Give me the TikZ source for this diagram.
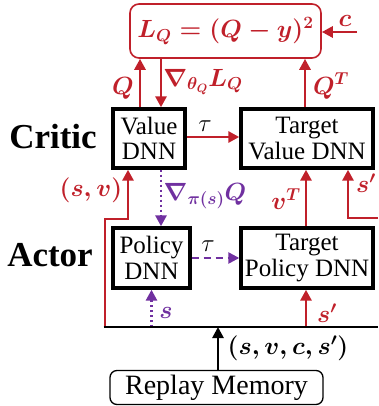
\documentclass[tikz,border=0pt]{standalone}
\usepackage{fontspec}
\setmainfont{Liberation Serif}
\usetikzlibrary{arrows.meta,calc}
\definecolor{cred}{RGB}{192,32,42}
\definecolor{cpur}{RGB}{112,48,160}
\begin{document}
\begin{tikzpicture}[x=1pt,y=-1pt,
  box/.style={draw=black,line width=3.4pt,align=center,inner sep=0pt,font=\fontsize{25}{25.5}\selectfont},
  ra/.style={draw=cred,line width=2.8pt,-{Triangle[length=11pt,width=11pt]}},
  pa/.style={draw=cpur,line width=2.8pt,dash pattern=on 2.5pt off 2.5pt,-{Triangle[length=11pt,width=11pt]}},
  pd/.style={draw=cpur,line width=2.4pt,dash pattern=on 7pt off 5pt,-{Triangle[length=11pt,width=11pt]}},
  ka/.style={draw=black,line width=2.6pt,-{Triangle[length=11pt,width=11pt]}},
  lab/.style={inner sep=0pt,font=\fontsize{23}{25}\selectfont\boldmath},
  tau/.style={inner sep=0pt,font=\fontsize{25}{27}\selectfont},
  tup/.style={inner sep=0pt,font=\fontsize{26}{28}\selectfont\boldmath},
  big/.style={inner sep=0pt,font=\fontsize{35}{38}\selectfont\bfseries}]
\useasboundingbox (0,0) rectangle (378,406);
% nodes
\node[draw=cred,line width=1.6pt,rounded corners=9pt,minimum width=191pt,minimum height=54pt,inner sep=0pt,text=cred,font=\fontsize{24}{26}\selectfont\boldmath] (loss) at (225.5,31) {$L_Q=(Q-y)^2$};
\node[box,minimum width=72pt,minimum height=59pt] (val) at (149,138.5) {Value\\DNN};
\node[box,minimum width=132pt,minimum height=59pt] (tval) at (307,138.5) {Target\\Value DNN};
\node[box,minimum width=77pt,minimum height=60pt] (pol) at (151.5,258) {Policy\\DNN};
\node[box,minimum width=132pt,minimum height=60pt] (tpol) at (307,258) {Target\\Policy DNN};
\node[draw=black,line width=1.3pt,rounded corners=7pt,minimum width=213pt,minimum height=34pt,inner sep=0pt,font=\fontsize{28}{30}\selectfont] (replay) at (216.5,387.5) {Replay Memory};
\node[big] (critic) at (53,137) {Critic};
\node[big] (actor) at (50,255) {Actor};
% coordinates
\coordinate (bl) at (105,327);
\coordinate (br) at (378,327);
\coordinate (sv) at (105,219);
\coordinate (sr) at (378,218);
\coordinate (cs) at (357,32);
% critic arrows
\draw[ra] ([xshift=-9pt]val.north) -- ([xshift=-9pt]val.north |- loss.south);
\draw[ra] ([xshift=12pt]val.north |- loss.south) -- ([xshift=12pt]val.north);
\draw[ra] ([xshift=-2pt]tval.north) -- ([xshift=-2pt]tval.north |- loss.south);
\draw[ra] (cs) -- (loss.east |- cs);
\draw[ra] ([yshift=1.5pt]val.east) -- ([yshift=1.5pt]tval.west);
\draw[ra] ([xshift=-1pt]tpol.north) -- ([xshift=-1pt]tpol.north |- tval.south);
\draw[ra] (sr) -| ([xshift=41pt]tval.south);
\draw[ra] (bl) -- (sv) -| ([xshift=-21pt]val.south);
% actor arrows
\draw[pa] ([xshift=12pt]val.south) -- ([xshift=12pt]val.south |- pol.north);
\draw[pd] (pol.east) -- (tpol.west);
\draw[pa] (pol.south |- bl) -- (pol.south);
\draw[ra] ([xshift=-1pt]tpol.south |- bl) -- ([xshift=-1pt]tpol.south);
% bottom line
\draw[black,line width=2.8pt] ([xshift=-1.4pt]bl) -- (br);
\draw[ka] ([xshift=1.5pt]replay.north) -- ([xshift=1.5pt]replay.north |- bl);
% labels
\node[lab,text=cred] (lq) at (123,88) {$Q$};
\node[lab,text=cred] (lg) at (203,82) {$\nabla_{\theta_Q}L_Q$};
\node[lab,text=cred] (lqt) at (331,86) {$Q^T$};
\node[lab,text=cred,font=\fontsize{27}{28}\selectfont\boldmath] (lc) at (345,21) {$c$};
\node[tau,text=black] (lt1) at (205,126) {$\tau$};
\node[tup,text=cred] (lsv) at (91,190) {$(s,v)$};
\node[lab,text=cpur] (lgp) at (205,196) {$\nabla_{\pi(s)}Q$};
\node[lab,text=cred] (lvt) at (286,199) {$v^T$};
\node[tup,text=cred] (ls2) at (366,183) {$s'$};
\node[tau,text=black] (lt2) at (208,246) {$\tau$};
\node[tup,text=cpur] (ls) at (166,313) {$s$};
\node[tup,text=cred] (ls3) at (327,313) {$s'$};
\node[tup,text=black] (lt) at (288,348) {$(s,v,c,s')$};
\end{tikzpicture}
\end{document}
